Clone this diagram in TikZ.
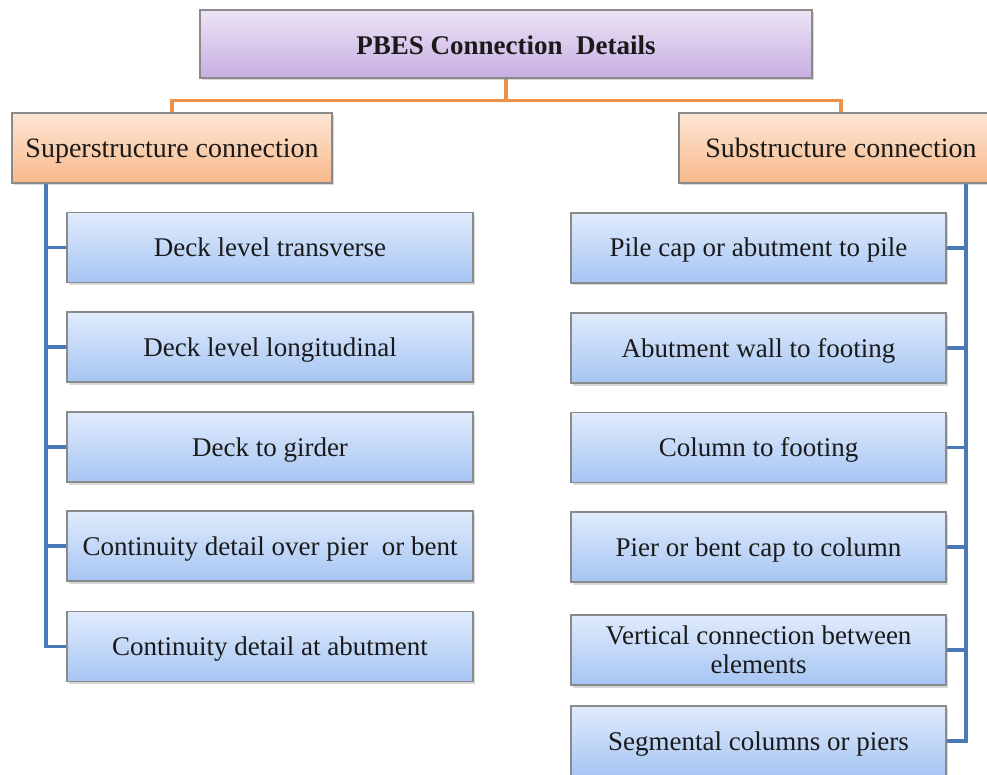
\documentclass[tikz,border=0pt]{standalone}
\usepackage{fontspec}
\setmainfont{Liberation Serif}
\usetikzlibrary{shadows,backgrounds}
\definecolor{purtop}{HTML}{ECE4F5}
\definecolor{purbot}{HTML}{C7AEE2}
\definecolor{ortop}{HTML}{FDE6D5}
\definecolor{orbot}{HTML}{F8B98A}
\definecolor{bltop}{HTML}{E0EBFC}
\definecolor{blbot}{HTML}{A6C5F3}
\definecolor{boxline}{HTML}{8A8A8A}
\definecolor{orline}{HTML}{EE9048}
\definecolor{blline}{HTML}{4A7AB5}
\definecolor{txt}{HTML}{1A1A1A}
\tikzset{
  basebox/.style={draw=boxline, line width=1.3pt, text=txt, align=center, inner sep=0pt,
    text height=18pt, text depth=0pt,
    drop shadow={opacity=0.3, shadow xshift=1.5pt, shadow yshift=-2.5pt}},
  titlebox/.style={basebox, top color=purtop, bottom color=purbot, minimum width=612pt, minimum height=68pt,
    text height=22pt, font=\fontsize{27}{31}\selectfont\bfseries},
  catbox/.style={basebox, top color=ortop, bottom color=orbot, minimum height=70pt,
    text height=18.5pt, font=\fontsize{28}{32}\selectfont},
  itembox/.style={basebox, top color=bltop, bottom color=blbot, minimum height=70pt,
    font=\fontsize{27}{29}\selectfont},
  leftitem/.style={itembox, minimum width=406pt},
  rightitem/.style={itembox, minimum width=375pt},
  orconn/.style={draw=orline, line width=3.2pt},
  blconn/.style={draw=blline, line width=3.5pt}
}
\begin{document}
\begin{tikzpicture}[x=1pt,y=-1pt]
\useasboundingbox (0,0) rectangle (987,775);
\clip (0,0) rectangle (987,775);
\coordinate (ltrunk) at (46,0);
\coordinate (rtrunk) at (966,0);
\node[titlebox] (title) at (506,44) {PBES Connection\ \ Details};
\node[catbox, minimum width=320pt] (sup) at (172,148) {Superstructure connection};
\node[catbox, minimum width=324pt] (sub) at (841,148) {Substructure connection};
\node[leftitem] (l1) at (270,247.5) {Deck level transverse};
\node[leftitem] (l2) at (270,347) {Deck level longitudinal};
\node[leftitem] (l3) at (270,447) {Deck to girder};
\node[leftitem] (l4) at (270,546) {Continuity detail over pier\ \ or bent};
\node[leftitem] (l5) at (270,646.5) {Continuity detail at abutment};
\node[rightitem] (r1) at (758.5,248) {Pile cap or abutment to pile};
\node[rightitem] (r2) at (758.5,348) {Abutment wall to footing};
\node[rightitem] (r3) at (758.5,447.5) {Column to footing};
\node[rightitem] (r4) at (758.5,547) {Pier or bent cap to column};
\node[rightitem, text height=47pt] (r5) at (758.5,650) {Vertical connection between\\elements};
\node[rightitem] (r6) at (758.5,741) {Segmental columns or piers};
\begin{scope}[on background layer]
\fill[white] (0,0) rectangle (987,775);
\draw[orconn] (title.south) -- ++(0,22) -| (sup.north);
\draw[orconn] (title.south) -- ++(0,22) -| (sub.north);
\foreach \n in {l1,l2,l3,l4,l5}{
  \draw[blconn] (sup.south -| ltrunk) |- (\n.west);
}
\foreach \n in {r1,r2,r3,r4,r5,r6}{
  \draw[blconn] (sub.south -| rtrunk) |- (\n.east);
}
\end{scope}
\end{tikzpicture}
\end{document}
